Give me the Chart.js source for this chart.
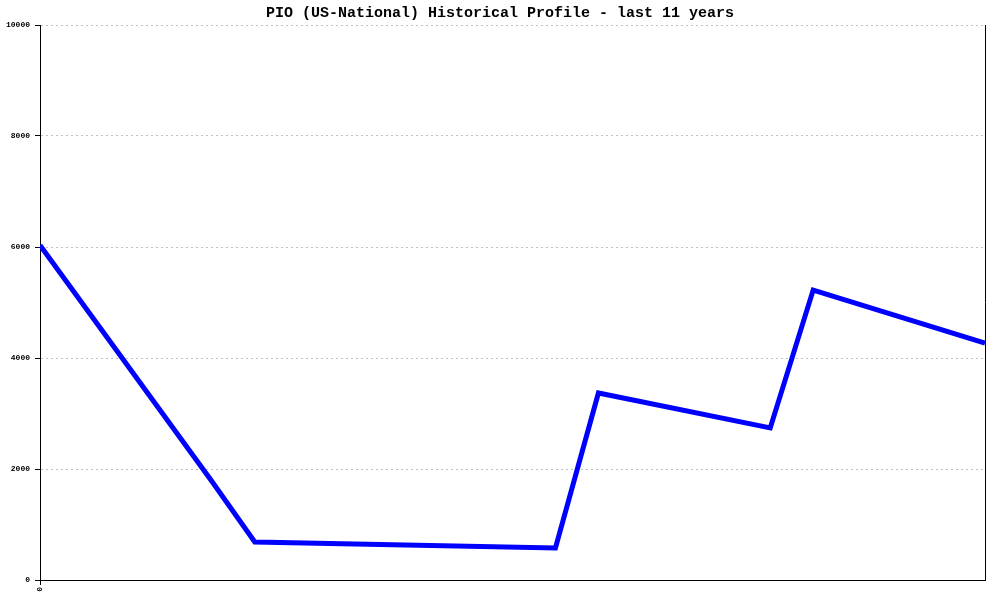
<!DOCTYPE html>
<html>
<head>
<meta charset="utf-8">
<script src="https://cdn.jsdelivr.net/npm/chart.js@4/dist/chart.umd.min.js"></script>
<style>
html,body{margin:0;padding:0;background:#fff;}
canvas{display:block;}
</style>
</head>
<body>
<canvas id="c" width="1000" height="600"></canvas>
<script>
const titleText = "PIO (US-National) Historical Profile - last 11 years";
const xPositions = [0, 4, 5, 12, 13, 17, 18, 22];
const values = [6030, 1780, 685, 577, 3370, 2740, 5225, 4270];
const yTicks = [0, 2000, 4000, 6000, 8000, 10000];
const xTickLabels = ["0"];

const points = xPositions.map((x, i) => ({x: x, y: values[i]}));

const rightBorder = {
  id: 'rightBorder',
  afterDraw(chart) {
    const {ctx, chartArea} = chart;
    ctx.save();
    ctx.strokeStyle = '#000';
    ctx.lineWidth = 1;
    ctx.beginPath();
    ctx.moveTo(Math.round(chartArea.right) + 0.5, chartArea.top);
    ctx.lineTo(Math.round(chartArea.right) + 0.5, chartArea.bottom);
    ctx.stroke();
    ctx.restore();
  }
};

new Chart(document.getElementById('c'), {
  type: 'line',
  data: {
    datasets: [{
      data: points,
      borderColor: '#0000ff',
      borderWidth: 5,
      pointRadius: 0,
      tension: 0,
      fill: false
    }]
  },
  options: {
    responsive: false,
    animation: false,
    layout: {padding: 0},
    plugins: {
      legend: {display: false},
      tooltip: {enabled: false},
      title: {
        display: true,
        text: titleText,
        color: '#000',
        font: {family: "'Liberation Mono', monospace", size: 15, weight: 'bold', lineHeight: 1.2},
        padding: {top: 4, bottom: 3}
      }
    },
    scales: {
      x: {
        type: 'linear',
        min: 0,
        max: 22,
        afterBuildTicks: (axis) => { axis.ticks = xTickLabels.map((l, i) => ({value: i})); },
        afterFit: (scale) => { scale.height = 20; },
        ticks: {
          autoSkip: false,
          minRotation: 90,
          maxRotation: 90,
          padding: 2,
          color: '#000',
          font: {family: "'Liberation Mono', monospace", size: 8, weight: 'bold'},
          callback: (v, i) => xTickLabels[i]
        },
        grid: {drawOnChartArea: false, tickLength: 5, tickColor: '#000'},
        border: {color: '#000', width: 1}
      },
      y: {
        min: 0,
        max: 10000,
        afterBuildTicks: (axis) => { axis.ticks = yTicks.map(v => ({value: v})); },
        afterFit: (scale) => { scale.width = 40; },
        ticks: {
          padding: 5,
          color: '#000',
          font: {family: "'Liberation Mono', monospace", size: 8, weight: 'bold'},
          callback: (v) => String(v)
        },
        grid: {
          color: '#c0c0c0',
          tickLength: 5,
          tickColor: '#000',
          tickBorderDash: []
        },
        border: {color: '#000', width: 1, dash: [2, 3]}
      },
      yRight: {
        position: 'right',
        min: 0,
        max: 10000,
        afterFit: (scale) => { scale.width = 15; },
        ticks: {display: false},
        grid: {display: false, drawOnChartArea: false},
        border: {display: false}
      }
    }
  },
  plugins: [rightBorder]
});
</script>
</body>
</html>
